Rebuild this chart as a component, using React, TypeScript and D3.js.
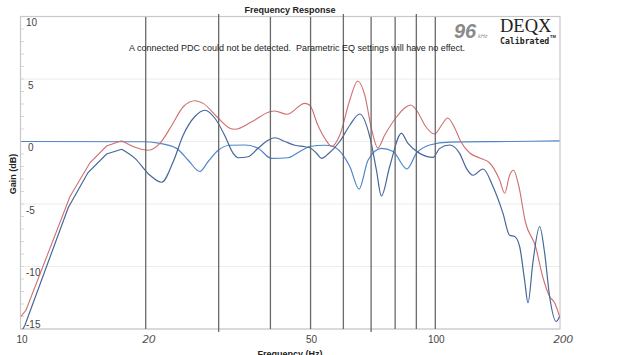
import React from 'react';
import * as d3 from 'd3';

// Red curve (frequency Hz, gain dB)
const redFreq = [10, 10.28, 13.13, 14.67, 16.09, 17.5, 20.3, 21.64, 23.13, 24.64, 26.29, 27.53, 29.7, 31.92, 32.83, 36.07, 39.86, 40.99, 43.82, 48.42, 49.79, 52.04, 54.1, 56.25, 58.8, 62.18, 64.99, 67.56, 70.24, 72.63, 75.51, 80.27, 84.35, 87.22, 90.68, 94.28, 99.68, 103.6, 107.1, 111.4, 115.2, 121.1, 128.0, 135.3, 143.0, 147.1, 151.1, 154.5, 158.9, 165.2, 174.6, 181.6, 188.8, 194.1, 199.5];
const redGain = [-14.0, -13.5, -4.4, -1.7, -0.36, 0.06, -0.7, -0.15, 1.3, 2.78, 3.26, 3.05, 1.98, 1.06, 0.98, 1.58, 2.38, 2.44, 2.18, 3.05, 2.9, 1.32, 0.26, -0.38, 0.5, 3.32, 4.84, 3.72, 0.92, -0.52, 0.52, 1.88, 2.68, 2.92, 2.36, 1.32, 0.6, 1.32, 1.88, 1.08, 0.0, -0.92, -1.32, -1.72, -3.08, -4.14, -2.7, -2.3, -3.5, -6.5, -8.4, -10.8, -12.4, -12.9, -14.0];

// Measured (dark blue) curve
const measFreq = [10.0, 10.22, 13.0, 14.5, 16.09, 17.5, 18.84, 20.48, 21.85, 23.3, 24.64, 26.29, 27.79, 29.38, 31.05, 32.52, 33.43, 35.33, 37.35, 39.5, 40.99, 43.34, 45.81, 48.42, 49.79, 51.67, 53.12, 55.11, 58.8, 62.18, 65.72, 69.46, 72.1, 74.13, 77.62, 82.82, 85.92, 91.71, 98.74, 102.5, 108.3, 114.5, 118.9, 123.3, 130.4, 137.8, 145.7, 151.1, 155.4, 159.8, 164.3, 167.4, 172.0, 178.6, 183.6, 188.8, 195.9, 199.5];
const measGain = [-15.3, -14.7, -5.3, -2.5, -1.0, -0.62, -1.35, -2.7, -3.26, -1.62, 0.52, 2.0, 2.5, 1.86, 0.46, -0.95, -1.3, -1.22, -0.54, 0.1, 0.3, 0.0, -0.3, -0.42, -0.5, -0.94, -1.35, -1.0, 0.0, 1.3, 2.2, 0.4, -2.3, -4.36, -2.0, 0.65, -0.15, -0.95, -1.27, -0.55, -0.28, -0.95, -2.15, -2.7, -2.2, -3.6, -5.75, -7.5, -7.6, -8.4, -11.1, -12.9, -9.7, -6.8, -8.9, -12.4, -14.4, -14.0];

// Parametric EQ (light blue) curve
const eqFreq = [10, 20, 21.64, 23.74, 25.33, 27.02, 28.3, 29.92, 31.92, 34.7, 37.35, 40.24, 44.13, 47.1, 49.79, 54.1, 56.67, 62.18, 65.46, 68.81, 74.13, 79.07, 85.43, 90.01, 96.94, 108.3, 150, 199.5];
const eqGain = [0.0, -0.02, -0.15, -0.55, -1.5, -2.4, -1.6, -0.7, -0.3, -0.28, -0.54, -1.35, -1.3, -0.8, -0.4, -0.3, -0.4, -2.0, -3.8, -1.5, -0.55, -0.8, -2.2, -0.95, -0.28, -0.05, 0.0, 0.05];

const yTickValues = [10, 5, 0, -5, -10, -15];
const xTickValues = [10, 50, 100];
const markerFreqs = [20, 30, 40, 50, 60, 70, 80, 90, 100];
const handFreqs = [20, 200];
const handLabels = ['20', '200'];
const linearBelowHz = 17.6; // coarse low-frequency data drawn as straight segments

const W = 639;
const H = 355;
const left = 21, right = 560, top = 16.5, bottom = 329;

export default function App() {
  const x = d3.scaleLog().domain([10, 200]).range([left, right]);
  const y = d3.scaleLinear().domain([-15, 10]).range([bottom, top]);
  const smooth = d3.line<[number, number]>().x(d => x(d[0])).y(d => y(d[1])).curve(d3.curveMonotoneX);
  const straight = d3.line<[number, number]>().x(d => x(d[0])).y(d => y(d[1])).curve(d3.curveLinear);
  const zip = (f: number[], g: number[]) => f.map((v, i) => [v, g[i]] as [number, number]);
  const pathOf = (f: number[], g: number[]) => {
    const pts = zip(f, g);
    const lo = pts.filter(p => p[0] <= linearBelowHz);
    const hi = pts.filter(p => p[0] >= (lo.length ? lo[lo.length - 1][0] : 0));
    return (lo.length > 1 ? straight(lo) : '') + ' ' + (smooth(hi) || '');
  };
  const minorTicks = d3.range(-15, 11, 1);

  return (
    <svg width={W} height={H} style={{ position: 'absolute', left: 0, top: 0, background: '#fff' }}
      fontFamily="Liberation Sans, Arial, sans-serif">
      <defs>
        <clipPath id="plot"><rect x={left} y={top} width={right - left} height={bottom - top} /></clipPath>
      </defs>
      <rect x={0} y={0} width={W} height={H} fill="#fff" />
      {yTickValues.map(v => (
        <line key={'g' + v} x1={left} x2={right} y1={y(v)} y2={y(v)} stroke="#ececec" strokeWidth={1} />
      ))}
      {minorTicks.map(v => (
        <line key={'m' + v} x1={left} x2={left + 3} y1={y(v)} y2={y(v)} stroke="#d8d8d8" strokeWidth={1} />
      ))}
      <rect x={left - 0.5} y={top} width={right - left + 0.5} height={bottom - top} fill="none" stroke="#c8c8c8" strokeWidth={1.2} />
      {yTickValues.map(v => (
        <text key={'yl' + v} x={v === 0 || v === 5 ? 28 : 26} y={v === -15 ? y(v) - 1.5 : y(v) + 9.5} fontSize={10} fill="#444">{v}</text>
      ))}
      {xTickValues.map(v => (
        <text key={'xl' + v} x={x(v) + 1} y={343} fontSize={10} fill="#444" textAnchor="middle">{v}</text>
      ))}
      <g clipPath="url(#plot)" fill="none">
        <path d={pathOf(eqFreq, eqGain)} stroke="#4f86c9" strokeWidth={1.2} />
        <path d={pathOf(redFreq, redGain)} stroke="#cf6f6f" strokeWidth={1.1} />
        <path d={pathOf(measFreq, measGain)} stroke="#46679c" strokeWidth={1.2} />
      </g>
      {markerFreqs.map((f, i) => (
        <line key={'v' + f} x1={x(f)} x2={x(f)} y1={i % 3 === 1 ? 14 : 17} y2={i % 4 === 1 ? 332 : 329}
          stroke="#6a6a6a" strokeWidth={1.3} />
      ))}
      <text x={290} y={13} fontSize={9} fontWeight="bold" fill="#222" textAnchor="middle">Frequency Response</text>
      <text x={297} y={51} fontSize={9} fill="#222" textAnchor="middle" style={{ whiteSpace: 'pre' }}>A connected PDC could not be detected.  Parametric EQ settings will have no effect.</text>
      <text transform="translate(16,174) rotate(-90)" fontSize={9} fontWeight="bold" fill="#222" textAnchor="middle">Gain (dB)</text>
      <text x={290} y={357} fontSize={9} fontWeight="bold" fill="#222" textAnchor="middle">Frequency (Hz)</text>
      <text x={454} y={38} fontSize={20} fontWeight="bold" fontStyle="italic" fill="#8a8a8a">96</text>
      <text x={478} y={38} fontSize={5.5} fontStyle="italic" fill="#8a8a8a">kHz</text>
      <text x={500} y={32} fontSize={18.5} fontFamily="Liberation Serif, DejaVu Serif, serif" fill="#222">DEQX</text>
      <text x={500} y={44} fontSize={8.2} fontWeight="bold" fontFamily="DejaVu Sans Mono, Liberation Mono, monospace" fill="#222">Calibrated</text>
      <text x={550} y={38} fontSize={4} fontWeight="bold" fill="#222">TM</text>
      {handFreqs.map((f, i) => (
        <text key={'h' + f} x={x(f) + 3} y={343} fontSize={11} fontStyle="italic" fill="#555" textAnchor="middle"
          fontFamily="DejaVu Sans, sans-serif" letterSpacing={-0.5}>{handLabels[i]}</text>
      ))}
    </svg>
  );
}
